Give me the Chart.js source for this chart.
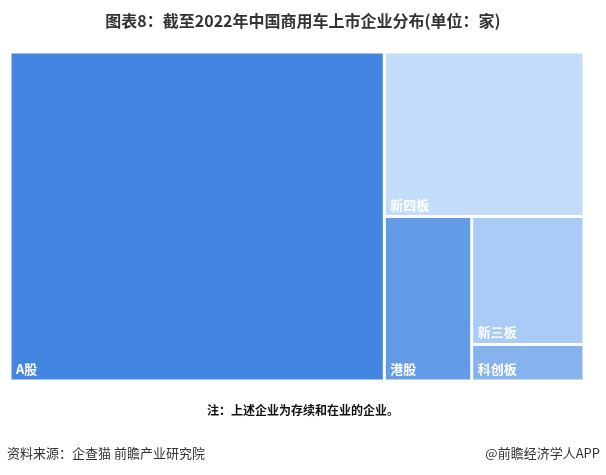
<!DOCTYPE html>
<html><head><meta charset="utf-8">
<script src="https://cdn.jsdelivr.net/npm/chart.js@4/dist/chart.umd.min.js"></script>
<style>
html,body{margin:0;padding:0;background:#fff;width:606px;height:475px;overflow:hidden;font-family:"Noto Sans CJK SC","Noto Sans",sans-serif;}
#wrap{position:relative;width:606px;height:475px;}
canvas{position:absolute;left:0;top:0;}
.t{position:absolute;white-space:nowrap;color:#222;}
</style></head>
<body><div id="wrap">
<canvas id="c" width="606" height="475"></canvas>
<div class="t" style="left:0;width:606px;top:8px;text-align:center;font-size:16px;font-weight:bold;color:#333;">图表8：截至2022年中国商用车上市企业分布(单位：家)</div>
<div class="t" style="left:0;width:606px;top:401px;text-align:center;font-size:12px;font-weight:bold;color:#111;">注：上述企业为存续和在业的企业。</div>
<div class="t" style="left:7px;top:443px;font-size:13px;color:#333;">资料来源：企查猫 前瞻产业研究院</div>
<div class="t" style="right:6px;top:443px;font-size:13px;color:#333;">@前瞻经济学人APP</div>
</div>
<script>
const categories = ["A股", "新四板", "港股", "新三板", "科创板"];
const counts = [60, 16, 7, 7, 2];
const colors = ["#4386E1", "#C2DCF9", "#649BE6", "#AACBF6", "#86B2EE"];

const W = 574, H = 329;

function worst(row, side){
  const s = row.reduce((a,b)=>a+b.a,0);
  let mx=0;
  for(const r of row){ const o = Math.max(side*side*r.a/(s*s), (s*s)/(side*side*r.a)); if(o>mx) mx=o; }
  return mx;
}
function squarify(items, x, y, w, h){
  const total = items.reduce((a,b)=>a+b.v,0);
  let nodes = items.map(it=>({...it, a: it.v/total*w*h}));
  const out=[];
  while(nodes.length){
    const side = Math.min(w,h);
    let row=[nodes[0]], i=1;
    while(i<nodes.length && worst(row.concat([nodes[i]]),side) <= worst(row,side)){ row.push(nodes[i]); i++; }
    nodes = nodes.slice(i);
    const s = row.reduce((a,b)=>a+b.a,0);
    if(w>=h){
      const cw = s/h; let cy=y;
      for(const r of row){ const rh=r.a/cw; out.push({...r,x:x,y:cy,w:cw,h:rh}); cy+=rh; }
      x+=cw; w-=cw;
    } else {
      const rh = s/w; let cx=x;
      for(const r of row){ const rw=r.a/rh; out.push({...r,x:cx,y:y,w:rw,h:rh}); cx+=rw; }
      y+=rh; h-=rh;
    }
  }
  return out;
}

const treemapPlugin = {
  id:'treemap',
  afterDatasetsDraw(chart){
    const ds = chart.data.datasets[0];
    const items = ds.data.map((v,i)=>({v, label: chart.data.labels[i], color: ds.backgroundColor[i]}));
    const cells = squarify(items, 0, 0, W, H);
    const xs = chart.scales.x, ys = chart.scales.y;
    const ctx = chart.ctx;
    ctx.save();
    for(const c of cells){
      const x0 = xs.getPixelForValue(c.x), x1 = xs.getPixelForValue(c.x+c.w);
      const y0 = ys.getPixelForValue(c.y), y1 = ys.getPixelForValue(c.y+c.h);
      const g = 1.5;
      ctx.fillStyle = c.color;
      ctx.fillRect(x0+g, y0+g, x1-x0-2*g, y1-y0-2*g);
      ctx.fillStyle = '#fff';
      ctx.font = 'bold 13px "Noto Sans CJK SC", sans-serif';
      ctx.textBaseline = 'alphabetic';
      ctx.textAlign = 'left';
      ctx.fillText(c.label, x0+6, y1-7);
    }
    ctx.restore();
  }
};

new Chart(document.getElementById('c'), {
  type:'scatter',
  data:{ labels: categories, datasets:[{ data: counts, backgroundColor: colors, pointRadius:0, showLine:false }] },
  options:{
    responsive:false, animation:false,
    layout:{ padding:{ left:10, top:52, right:22, bottom:94 } },
    plugins:{ legend:{display:false}, tooltip:{enabled:false}, title:{display:false} },
    scales:{
      x:{ type:'linear', min:0, max:W, display:false },
      y:{ type:'linear', min:0, max:H, reverse:true, display:false }
    }
  },
  plugins:[treemapPlugin]
});
</script>
</body></html>
